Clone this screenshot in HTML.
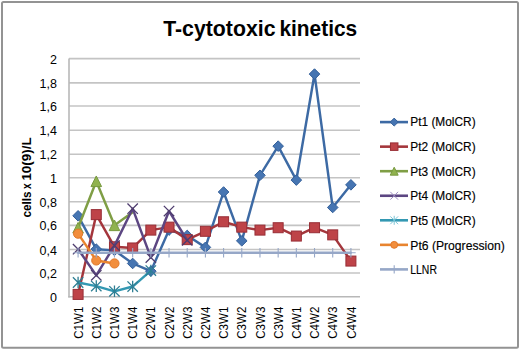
<!DOCTYPE html><html><head><meta charset="utf-8"><style>html,body{margin:0;padding:0;background:#fff;}svg{display:block;}text{font-family:"Liberation Sans",sans-serif;}</style></head><body>
<svg width="520" height="350" viewBox="0 0 520 350">
<rect x="0" y="0" width="520" height="350" fill="#fff"/>
<rect x="2" y="2" width="516" height="345.8" rx="1.5" fill="#fff" stroke="#939393" stroke-width="2"/>
<text x="163.2" y="35.8" font-size="22.2" font-weight="bold" fill="#000" textLength="112.3" lengthAdjust="spacingAndGlyphs">T-cytotoxic</text>
<text x="279.4" y="35.8" font-size="22.2" font-weight="bold" fill="#000" textLength="77.8" lengthAdjust="spacingAndGlyphs">kinetics</text>
<line x1="69.0" y1="273.00" x2="360.0" y2="273.00" stroke="#C4C4C4" stroke-width="1.6"/>
<line x1="69.0" y1="249.55" x2="360.0" y2="249.55" stroke="#C4C4C4" stroke-width="1.6"/>
<line x1="69.0" y1="225.35" x2="360.0" y2="225.35" stroke="#C4C4C4" stroke-width="1.6"/>
<line x1="69.0" y1="201.75" x2="360.0" y2="201.75" stroke="#C4C4C4" stroke-width="1.6"/>
<line x1="69.0" y1="177.70" x2="360.0" y2="177.70" stroke="#C4C4C4" stroke-width="1.6"/>
<line x1="69.0" y1="154.30" x2="360.0" y2="154.30" stroke="#C4C4C4" stroke-width="1.6"/>
<line x1="69.0" y1="130.30" x2="360.0" y2="130.30" stroke="#C4C4C4" stroke-width="1.6"/>
<line x1="69.0" y1="106.00" x2="360.0" y2="106.00" stroke="#C4C4C4" stroke-width="1.6"/>
<line x1="69.0" y1="82.90" x2="360.0" y2="82.90" stroke="#C4C4C4" stroke-width="1.6"/>
<line x1="69.0" y1="58.60" x2="360.0" y2="58.60" stroke="#C4C4C4" stroke-width="1.6"/>
<line x1="69.0" y1="58.60" x2="69.0" y2="297.60" stroke="#B8B8B8" stroke-width="1.6"/>
<line x1="68.2" y1="296.80" x2="360.0" y2="296.80" stroke="#B8B8B8" stroke-width="1.6"/>
<text x="57" y="301.90" font-size="12.5" fill="#000" text-anchor="end">0</text>
<text x="57" y="278.10" font-size="12.5" fill="#000" text-anchor="end">0,2</text>
<text x="57" y="254.65" font-size="12.5" fill="#000" text-anchor="end">0,4</text>
<text x="57" y="230.45" font-size="12.5" fill="#000" text-anchor="end">0,6</text>
<text x="57" y="206.85" font-size="12.5" fill="#000" text-anchor="end">0,8</text>
<text x="57" y="182.80" font-size="12.5" fill="#000" text-anchor="end">1</text>
<text x="57" y="159.40" font-size="12.5" fill="#000" text-anchor="end">1,2</text>
<text x="57" y="135.40" font-size="12.5" fill="#000" text-anchor="end">1,4</text>
<text x="57" y="111.10" font-size="12.5" fill="#000" text-anchor="end">1,6</text>
<text x="57" y="88.00" font-size="12.5" fill="#000" text-anchor="end">1,8</text>
<text x="57" y="63.70" font-size="12.5" fill="#000" text-anchor="end">2</text>
<text transform="translate(31.2,217.6) rotate(-90)" font-size="12" font-weight="bold" fill="#000" textLength="26.2" lengthAdjust="spacingAndGlyphs">cells</text>
<text transform="translate(31.2,189.0) rotate(-90)" font-size="12" font-weight="bold" fill="#000" textLength="5.6" lengthAdjust="spacingAndGlyphs">x</text>
<text transform="translate(31.2,180.6) rotate(-90)" font-size="12" font-weight="bold" fill="#000" textLength="43.2" lengthAdjust="spacingAndGlyphs">10(9)/L</text>
<text transform="translate(82.69,306.7) rotate(-90)" font-size="12.5" fill="#000" text-anchor="end" textLength="32" lengthAdjust="spacingAndGlyphs">C1W1</text>
<text transform="translate(100.88,306.7) rotate(-90)" font-size="12.5" fill="#000" text-anchor="end" textLength="32" lengthAdjust="spacingAndGlyphs">C1W2</text>
<text transform="translate(119.07,306.7) rotate(-90)" font-size="12.5" fill="#000" text-anchor="end" textLength="32" lengthAdjust="spacingAndGlyphs">C1W3</text>
<text transform="translate(137.26,306.7) rotate(-90)" font-size="12.5" fill="#000" text-anchor="end" textLength="32" lengthAdjust="spacingAndGlyphs">C1W4</text>
<text transform="translate(155.44,306.7) rotate(-90)" font-size="12.5" fill="#000" text-anchor="end" textLength="32" lengthAdjust="spacingAndGlyphs">C2W1</text>
<text transform="translate(173.63,306.7) rotate(-90)" font-size="12.5" fill="#000" text-anchor="end" textLength="32" lengthAdjust="spacingAndGlyphs">C2W2</text>
<text transform="translate(191.82,306.7) rotate(-90)" font-size="12.5" fill="#000" text-anchor="end" textLength="32" lengthAdjust="spacingAndGlyphs">C2W3</text>
<text transform="translate(210.01,306.7) rotate(-90)" font-size="12.5" fill="#000" text-anchor="end" textLength="32" lengthAdjust="spacingAndGlyphs">C2W4</text>
<text transform="translate(228.19,306.7) rotate(-90)" font-size="12.5" fill="#000" text-anchor="end" textLength="32" lengthAdjust="spacingAndGlyphs">C3W1</text>
<text transform="translate(246.38,306.7) rotate(-90)" font-size="12.5" fill="#000" text-anchor="end" textLength="32" lengthAdjust="spacingAndGlyphs">C3W2</text>
<text transform="translate(264.57,306.7) rotate(-90)" font-size="12.5" fill="#000" text-anchor="end" textLength="32" lengthAdjust="spacingAndGlyphs">C3W3</text>
<text transform="translate(282.76,306.7) rotate(-90)" font-size="12.5" fill="#000" text-anchor="end" textLength="32" lengthAdjust="spacingAndGlyphs">C3W4</text>
<text transform="translate(300.94,306.7) rotate(-90)" font-size="12.5" fill="#000" text-anchor="end" textLength="32" lengthAdjust="spacingAndGlyphs">C4W1</text>
<text transform="translate(319.13,306.7) rotate(-90)" font-size="12.5" fill="#000" text-anchor="end" textLength="32" lengthAdjust="spacingAndGlyphs">C4W2</text>
<text transform="translate(337.32,306.7) rotate(-90)" font-size="12.5" fill="#000" text-anchor="end" textLength="32" lengthAdjust="spacingAndGlyphs">C4W3</text>
<text transform="translate(355.51,306.7) rotate(-90)" font-size="12.5" fill="#000" text-anchor="end" textLength="32" lengthAdjust="spacingAndGlyphs">C4W4</text>
<polyline points="78.09,215.81 96.28,249.16 114.47,250.35 132.66,263.45 150.84,271.19 169.03,230.10 187.22,235.46 205.41,247.37 223.59,191.99 241.78,240.82 259.97,175.32 278.16,146.14 296.34,180.08 314.53,74.08 332.72,207.48 350.91,184.85" fill="none" stroke="#3D6AA4" stroke-width="2.45" stroke-linejoin="round" stroke-linecap="round"/>
<path d="M78.09 210.51L83.39 215.81L78.09 221.11L72.79 215.81Z" fill="#4675B2" stroke="#34609A" stroke-width="1"/>
<path d="M96.28 243.86L101.58 249.16L96.28 254.46L90.98 249.16Z" fill="#4675B2" stroke="#34609A" stroke-width="1"/>
<path d="M114.47 245.05L119.77 250.35L114.47 255.65L109.17 250.35Z" fill="#4675B2" stroke="#34609A" stroke-width="1"/>
<path d="M132.66 258.15L137.96 263.45L132.66 268.75L127.36 263.45Z" fill="#4675B2" stroke="#34609A" stroke-width="1"/>
<path d="M150.84 265.89L156.14 271.19L150.84 276.49L145.54 271.19Z" fill="#4675B2" stroke="#34609A" stroke-width="1"/>
<path d="M169.03 224.80L174.33 230.10L169.03 235.40L163.73 230.10Z" fill="#4675B2" stroke="#34609A" stroke-width="1"/>
<path d="M187.22 230.16L192.52 235.46L187.22 240.76L181.92 235.46Z" fill="#4675B2" stroke="#34609A" stroke-width="1"/>
<path d="M205.41 242.07L210.71 247.37L205.41 252.67L200.11 247.37Z" fill="#4675B2" stroke="#34609A" stroke-width="1"/>
<path d="M223.59 186.69L228.89 191.99L223.59 197.29L218.29 191.99Z" fill="#4675B2" stroke="#34609A" stroke-width="1"/>
<path d="M241.78 235.52L247.08 240.82L241.78 246.12L236.48 240.82Z" fill="#4675B2" stroke="#34609A" stroke-width="1"/>
<path d="M259.97 170.02L265.27 175.32L259.97 180.62L254.67 175.32Z" fill="#4675B2" stroke="#34609A" stroke-width="1"/>
<path d="M278.16 140.84L283.46 146.14L278.16 151.44L272.86 146.14Z" fill="#4675B2" stroke="#34609A" stroke-width="1"/>
<path d="M296.34 174.78L301.64 180.08L296.34 185.38L291.04 180.08Z" fill="#4675B2" stroke="#34609A" stroke-width="1"/>
<path d="M314.53 68.78L319.83 74.08L314.53 79.38L309.23 74.08Z" fill="#4675B2" stroke="#34609A" stroke-width="1"/>
<path d="M332.72 202.18L338.02 207.48L332.72 212.78L327.42 207.48Z" fill="#4675B2" stroke="#34609A" stroke-width="1"/>
<path d="M350.91 179.55L356.21 184.85L350.91 190.15L345.61 184.85Z" fill="#4675B2" stroke="#34609A" stroke-width="1"/>
<polyline points="78.09,294.42 96.28,214.62 114.47,246.78 132.66,247.97 150.84,230.10 169.03,227.13 187.22,239.63 205.41,231.30 223.59,221.77 241.78,227.13 259.97,230.10 278.16,227.72 296.34,236.06 314.53,227.72 332.72,234.87 350.91,261.07" fill="none" stroke="#A4363C" stroke-width="2.45" stroke-linejoin="round" stroke-linecap="round"/>
<rect x="73.09" y="289.42" width="10.00" height="10.00" fill="#BE4348" stroke="#982E36" stroke-width="1"/>
<rect x="91.28" y="209.62" width="10.00" height="10.00" fill="#BE4348" stroke="#982E36" stroke-width="1"/>
<rect x="109.47" y="241.78" width="10.00" height="10.00" fill="#BE4348" stroke="#982E36" stroke-width="1"/>
<rect x="127.66" y="242.97" width="10.00" height="10.00" fill="#BE4348" stroke="#982E36" stroke-width="1"/>
<rect x="145.84" y="225.10" width="10.00" height="10.00" fill="#BE4348" stroke="#982E36" stroke-width="1"/>
<rect x="164.03" y="222.13" width="10.00" height="10.00" fill="#BE4348" stroke="#982E36" stroke-width="1"/>
<rect x="182.22" y="234.63" width="10.00" height="10.00" fill="#BE4348" stroke="#982E36" stroke-width="1"/>
<rect x="200.41" y="226.30" width="10.00" height="10.00" fill="#BE4348" stroke="#982E36" stroke-width="1"/>
<rect x="218.59" y="216.77" width="10.00" height="10.00" fill="#BE4348" stroke="#982E36" stroke-width="1"/>
<rect x="236.78" y="222.13" width="10.00" height="10.00" fill="#BE4348" stroke="#982E36" stroke-width="1"/>
<rect x="254.97" y="225.10" width="10.00" height="10.00" fill="#BE4348" stroke="#982E36" stroke-width="1"/>
<rect x="273.16" y="222.72" width="10.00" height="10.00" fill="#BE4348" stroke="#982E36" stroke-width="1"/>
<rect x="291.34" y="231.06" width="10.00" height="10.00" fill="#BE4348" stroke="#982E36" stroke-width="1"/>
<rect x="309.53" y="222.72" width="10.00" height="10.00" fill="#BE4348" stroke="#982E36" stroke-width="1"/>
<rect x="327.72" y="229.87" width="10.00" height="10.00" fill="#BE4348" stroke="#982E36" stroke-width="1"/>
<rect x="345.91" y="256.07" width="10.00" height="10.00" fill="#BE4348" stroke="#982E36" stroke-width="1"/>
<polyline points="78.09,227.72 96.28,181.27 114.47,225.34 132.66,212.24" fill="none" stroke="#7F9E45" stroke-width="2.45" stroke-linejoin="round" stroke-linecap="round"/>
<path d="M78.09 222.42L83.39 233.02L72.79 233.02Z" fill="#90B24E" stroke="#789A40" stroke-width="1"/>
<path d="M96.28 175.97L101.58 186.57L90.98 186.57Z" fill="#90B24E" stroke="#789A40" stroke-width="1"/>
<path d="M114.47 220.04L119.77 230.64L109.17 230.64Z" fill="#90B24E" stroke="#789A40" stroke-width="1"/>
<polyline points="78.09,249.16 96.28,275.36 114.47,245.59 132.66,208.67 150.84,257.50 169.03,211.05 187.22,240.23" fill="none" stroke="#5C4682" stroke-width="2.45" stroke-linejoin="round" stroke-linecap="round"/>
<path d="M72.89 243.96L83.29 254.36M83.29 243.96L72.89 254.36" stroke="#4E3C6E" stroke-width="1.3" fill="none"/>
<path d="M91.08 270.16L101.48 280.56M101.48 270.16L91.08 280.56" stroke="#4E3C6E" stroke-width="1.3" fill="none"/>
<path d="M109.27 240.39L119.67 250.79M119.67 240.39L109.27 250.79" stroke="#4E3C6E" stroke-width="1.3" fill="none"/>
<path d="M127.46 203.47L137.86 213.87M137.86 203.47L127.46 213.87" stroke="#4E3C6E" stroke-width="1.3" fill="none"/>
<path d="M145.64 252.30L156.04 262.70M156.04 252.30L145.64 262.70" stroke="#4E3C6E" stroke-width="1.3" fill="none"/>
<path d="M163.83 205.85L174.23 216.25M174.23 205.85L163.83 216.25" stroke="#4E3C6E" stroke-width="1.3" fill="none"/>
<path d="M182.02 235.03L192.42 245.43M192.42 235.03L182.02 245.43" stroke="#4E3C6E" stroke-width="1.3" fill="none"/>
<polyline points="78.09,282.51 96.28,286.08 114.47,291.32 132.66,286.56 150.84,270.60" fill="none" stroke="#3398B2" stroke-width="2.45" stroke-linejoin="round" stroke-linecap="round"/>
<path d="M72.89 277.31L83.29 287.71M83.29 277.31L72.89 287.71M78.09 276.71L78.09 288.31" stroke="#2E7F94" stroke-width="1.3" fill="none"/>
<path d="M91.08 280.88L101.48 291.28M101.48 280.88L91.08 291.28M96.28 280.28L96.28 291.88" stroke="#2E7F94" stroke-width="1.3" fill="none"/>
<path d="M109.27 286.12L119.67 296.52M119.67 286.12L109.27 296.52M114.47 285.52L114.47 297.12" stroke="#2E7F94" stroke-width="1.3" fill="none"/>
<path d="M127.46 281.36L137.86 291.76M137.86 281.36L127.46 291.76M132.66 280.76L132.66 292.36" stroke="#2E7F94" stroke-width="1.3" fill="none"/>
<path d="M145.64 265.40L156.04 275.80M156.04 265.40L145.64 275.80M150.84 264.80L150.84 276.40" stroke="#2E7F94" stroke-width="1.3" fill="none"/>
<polyline points="78.09,233.68 96.28,260.47 114.47,263.45" fill="none" stroke="#E8842F" stroke-width="2.45" stroke-linejoin="round" stroke-linecap="round"/>
<circle cx="78.09" cy="233.68" r="4.60" fill="#F28E3C" stroke="#E0782A" stroke-width="1"/>
<circle cx="96.28" cy="260.47" r="4.60" fill="#F28E3C" stroke="#E0782A" stroke-width="1"/>
<circle cx="114.47" cy="263.45" r="4.60" fill="#F28E3C" stroke="#E0782A" stroke-width="1"/>
<polyline points="78.09,252.73 96.28,252.73 114.47,252.73 132.66,252.73 150.84,252.73 169.03,252.73 187.22,252.73 205.41,252.73 223.59,252.73 241.78,252.73 259.97,252.73 278.16,252.73 296.34,252.73 314.53,252.73 332.72,252.73 350.91,252.73" fill="none" stroke="#96A7C7" stroke-width="2.3" stroke-linejoin="round" stroke-linecap="round"/>
<path d="M78.09 247.93L78.09 257.53M73.29 252.73L82.89 252.73" stroke="#96A7C7" stroke-width="1.1" fill="none"/>
<path d="M96.28 247.93L96.28 257.53M91.48 252.73L101.08 252.73" stroke="#96A7C7" stroke-width="1.1" fill="none"/>
<path d="M114.47 247.93L114.47 257.53M109.67 252.73L119.27 252.73" stroke="#96A7C7" stroke-width="1.1" fill="none"/>
<path d="M132.66 247.93L132.66 257.53M127.86 252.73L137.46 252.73" stroke="#96A7C7" stroke-width="1.1" fill="none"/>
<path d="M150.84 247.93L150.84 257.53M146.04 252.73L155.64 252.73" stroke="#96A7C7" stroke-width="1.1" fill="none"/>
<path d="M169.03 247.93L169.03 257.53M164.23 252.73L173.83 252.73" stroke="#96A7C7" stroke-width="1.1" fill="none"/>
<path d="M187.22 247.93L187.22 257.53M182.42 252.73L192.02 252.73" stroke="#96A7C7" stroke-width="1.1" fill="none"/>
<path d="M205.41 247.93L205.41 257.53M200.61 252.73L210.21 252.73" stroke="#96A7C7" stroke-width="1.1" fill="none"/>
<path d="M223.59 247.93L223.59 257.53M218.79 252.73L228.39 252.73" stroke="#96A7C7" stroke-width="1.1" fill="none"/>
<path d="M241.78 247.93L241.78 257.53M236.98 252.73L246.58 252.73" stroke="#96A7C7" stroke-width="1.1" fill="none"/>
<path d="M259.97 247.93L259.97 257.53M255.17 252.73L264.77 252.73" stroke="#96A7C7" stroke-width="1.1" fill="none"/>
<path d="M278.16 247.93L278.16 257.53M273.36 252.73L282.96 252.73" stroke="#96A7C7" stroke-width="1.1" fill="none"/>
<path d="M296.34 247.93L296.34 257.53M291.54 252.73L301.14 252.73" stroke="#96A7C7" stroke-width="1.1" fill="none"/>
<path d="M314.53 247.93L314.53 257.53M309.73 252.73L319.33 252.73" stroke="#96A7C7" stroke-width="1.1" fill="none"/>
<path d="M332.72 247.93L332.72 257.53M327.92 252.73L337.52 252.73" stroke="#96A7C7" stroke-width="1.1" fill="none"/>
<path d="M350.91 247.93L350.91 257.53M346.11 252.73L355.71 252.73" stroke="#96A7C7" stroke-width="1.1" fill="none"/>
<line x1="380" y1="122.10" x2="408" y2="122.10" stroke="#3D6AA4" stroke-width="2.6"/>
<path d="M394.20 118.12L398.18 122.10L394.20 126.07L390.22 122.10Z" fill="#4675B2" stroke="#34609A" stroke-width="1"/>
<text x="410.3" y="126.30" font-size="12.4" fill="#000" stroke="#000" stroke-width="0.15" textLength="65.3" lengthAdjust="spacingAndGlyphs">Pt1 (MolCR)</text>
<line x1="380" y1="146.65" x2="408" y2="146.65" stroke="#A4363C" stroke-width="2.6"/>
<rect x="390.45" y="142.90" width="7.50" height="7.50" fill="#BE4348" stroke="#982E36" stroke-width="1"/>
<text x="410.3" y="150.98" font-size="12.4" fill="#000" stroke="#000" stroke-width="0.15" textLength="65.3" lengthAdjust="spacingAndGlyphs">Pt2 (MolCR)</text>
<line x1="380" y1="171.20" x2="408" y2="171.20" stroke="#7F9E45" stroke-width="2.6"/>
<path d="M394.20 167.22L398.18 175.17L390.22 175.17Z" fill="#90B24E" stroke="#789A40" stroke-width="1"/>
<text x="410.3" y="175.66" font-size="12.4" fill="#000" stroke="#000" stroke-width="0.15" textLength="65.3" lengthAdjust="spacingAndGlyphs">Pt3 (MolCR)</text>
<line x1="380" y1="195.75" x2="408" y2="195.75" stroke="#5C4682" stroke-width="2.6"/>
<path d="M390.30 191.85L398.10 199.65M398.10 191.85L390.30 199.65" stroke="#9C8CC0" stroke-width="1.0" fill="none"/>
<text x="410.3" y="200.34" font-size="12.4" fill="#000" stroke="#000" stroke-width="0.15" textLength="65.3" lengthAdjust="spacingAndGlyphs">Pt4 (MolCR)</text>
<line x1="380" y1="220.30" x2="408" y2="220.30" stroke="#3398B2" stroke-width="2.6"/>
<path d="M390.30 216.40L398.10 224.20M398.10 216.40L390.30 224.20M394.20 215.80L394.20 224.80" stroke="#7CC4D6" stroke-width="1.0" fill="none"/>
<text x="410.3" y="225.02" font-size="12.4" fill="#000" stroke="#000" stroke-width="0.15" textLength="65.3" lengthAdjust="spacingAndGlyphs">Pt5 (MolCR)</text>
<line x1="380" y1="244.85" x2="408" y2="244.85" stroke="#E8842F" stroke-width="2.6"/>
<circle cx="394.20" cy="244.85" r="3.45" fill="#F28E3C" stroke="#E0782A" stroke-width="1"/>
<text x="410.3" y="249.70" font-size="12.4" fill="#000" stroke="#000" stroke-width="0.15" textLength="94.5" lengthAdjust="spacingAndGlyphs">Pt6 (Progression)</text>
<line x1="380" y1="269.40" x2="408" y2="269.40" stroke="#96A7C7" stroke-width="2.6"/>
<path d="M394.20 265.32L394.20 273.48M390.12 269.40L398.28 269.40" stroke="#96A7C7" stroke-width="1.1" fill="none"/>
<text x="410.3" y="274.38" font-size="12.4" fill="#000" stroke="#000" stroke-width="0.15" textLength="26.6" lengthAdjust="spacingAndGlyphs">LLNR</text>
</svg></body></html>
